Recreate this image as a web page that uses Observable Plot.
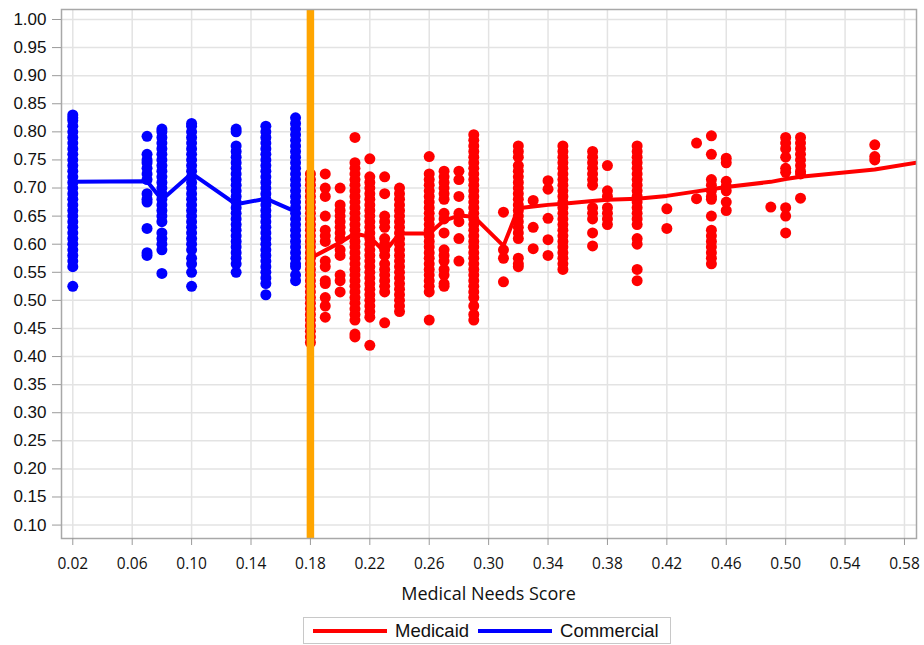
<!DOCTYPE html>
<html>
<head>
<meta charset="utf-8">
<script src="https://cdn.jsdelivr.net/npm/d3@7"></script>
<script src="https://cdn.jsdelivr.net/npm/@observablehq/plot@0.6"></script>
<style>
  html, body { margin: 0; padding: 0; background: #fff; }
  #wrap { position: relative; width: 924px; height: 645px; overflow: hidden; }
  #xlabel { position: absolute; left: 61px; width: 855px; top: 582px; text-align: center;
            font-family: "Open Sans", sans-serif; font-size: 18px; line-height: 22px; color: #111; }
  #legend { position: absolute; left: 303px; top: 617px; width: 368px; height: 27px; box-sizing: border-box;
            border: 1px solid #c8c8c8; display: flex; align-items: center; padding-left: 9px;
            font-family: "Liberation Sans", Arial, sans-serif; font-size: 18.5px; color: #111; }
  .sw { width: 74px; height: 4px; margin-right: 8px; }
</style>
</head>
<body>
<div id="wrap"></div>
<script>
// ---- tick labels ----
const xTicks = [0.02,0.06,0.10,0.14,0.18,0.22,0.26,0.30,0.34,0.38,0.42,0.46,0.50,0.54,0.58];
const yTicks = [0.10,0.15,0.20,0.25,0.30,0.35,0.40,0.45,0.50,0.55,0.60,0.65,0.70,0.75,0.80,0.85,0.90,0.95,1.00];
const cutoff = 0.18;

// ---- Commercial points (score -> values) ----
const commercialScores = [0.02,0.07,0.08,0.10,0.13,0.15,0.17];
const commercialValues = [
  [0.83,0.825,0.82,0.81,0.80,0.79,0.78,0.77,0.76,0.75,0.74,0.73,0.72,0.71,0.70,0.69,0.68,0.67,0.66,0.65,0.64,0.63,0.62,0.61,0.60,0.59,0.58,0.57,0.56,0.525],
  [0.792,0.76,0.75,0.745,0.735,0.725,0.715,0.69,0.68,0.675,0.628,0.585,0.58],
  [0.805,0.80,0.79,0.78,0.77,0.76,0.75,0.74,0.73,0.72,0.71,0.70,0.69,0.68,0.67,0.66,0.65,0.64,0.62,0.61,0.60,0.59,0.548],
  [0.815,0.81,0.80,0.79,0.78,0.77,0.76,0.75,0.74,0.73,0.72,0.71,0.70,0.69,0.68,0.67,0.66,0.65,0.64,0.63,0.62,0.61,0.60,0.59,0.575,0.565,0.55,0.525],
  [0.805,0.80,0.775,0.765,0.755,0.745,0.735,0.725,0.715,0.705,0.695,0.685,0.675,0.665,0.655,0.645,0.635,0.625,0.615,0.605,0.595,0.585,0.575,0.565,0.55],
  [0.81,0.80,0.79,0.78,0.77,0.76,0.75,0.74,0.73,0.72,0.71,0.70,0.69,0.68,0.67,0.66,0.65,0.64,0.63,0.62,0.61,0.60,0.59,0.58,0.57,0.56,0.55,0.54,0.53,0.51],
  [0.825,0.815,0.805,0.795,0.785,0.775,0.765,0.755,0.745,0.735,0.725,0.715,0.705,0.695,0.685,0.675,0.665,0.655,0.645,0.635,0.625,0.615,0.605,0.595,0.585,0.575,0.565,0.56,0.545,0.535]
];
const commercialMean = [0.711,0.712,0.679,0.726,0.671,0.681,0.658];

// ---- Medicaid points (score -> values) ----
const medicaidScores = [0.18,0.19,0.20,0.21,0.22,0.23,0.24,0.26,0.27,0.28,0.29,0.31,0.32,0.33,0.34,0.35,0.37,0.38,0.40,0.42,0.44,0.45,0.46,0.49,0.50,0.51,0.56];
const medicaidValues = [
  [0.725,0.715,0.705,0.695,0.685,0.675,0.665,0.655,0.645,0.635,0.625,0.615,0.605,0.595,0.585,0.575,0.565,0.555,0.545,0.535,0.525,0.515,0.505,0.495,0.485,0.475,0.465,0.455,0.445,0.435,0.425],
  [0.725,0.70,0.685,0.65,0.625,0.615,0.605,0.57,0.56,0.535,0.53,0.505,0.49,0.47],
  [0.70,0.67,0.66,0.65,0.64,0.63,0.62,0.61,0.59,0.58,0.545,0.535,0.515],
  [0.79,0.745,0.735,0.725,0.715,0.705,0.695,0.685,0.675,0.665,0.655,0.645,0.635,0.625,0.615,0.605,0.595,0.585,0.575,0.565,0.555,0.545,0.535,0.525,0.515,0.505,0.495,0.485,0.475,0.465,0.44,0.435],
  [0.752,0.72,0.71,0.70,0.69,0.68,0.67,0.66,0.65,0.64,0.63,0.62,0.61,0.60,0.59,0.58,0.57,0.56,0.55,0.54,0.53,0.52,0.51,0.50,0.49,0.48,0.47,0.42],
  [0.72,0.69,0.65,0.64,0.63,0.61,0.60,0.59,0.58,0.565,0.555,0.545,0.535,0.525,0.515,0.46],
  [0.70,0.69,0.68,0.67,0.66,0.65,0.64,0.63,0.62,0.61,0.60,0.59,0.58,0.57,0.56,0.55,0.54,0.53,0.52,0.51,0.50,0.49,0.48],
  [0.756,0.725,0.715,0.705,0.695,0.685,0.675,0.665,0.655,0.645,0.635,0.625,0.615,0.605,0.595,0.585,0.575,0.565,0.555,0.545,0.535,0.525,0.515,0.465],
  [0.73,0.72,0.71,0.70,0.69,0.68,0.655,0.645,0.62,0.59,0.58,0.57,0.555,0.545,0.53,0.525],
  [0.73,0.715,0.685,0.655,0.64,0.61,0.57],
  [0.795,0.785,0.775,0.765,0.755,0.745,0.735,0.725,0.715,0.705,0.695,0.685,0.675,0.665,0.655,0.645,0.635,0.625,0.615,0.605,0.595,0.585,0.575,0.565,0.555,0.545,0.535,0.525,0.515,0.505,0.49,0.475,0.465],
  [0.657,0.59,0.575,0.533],
  [0.775,0.765,0.755,0.74,0.73,0.72,0.71,0.70,0.69,0.68,0.67,0.66,0.65,0.64,0.63,0.62,0.61,0.575,0.565,0.56],
  [0.678,0.63,0.592],
  [0.713,0.698,0.646,0.608,0.58],
  [0.775,0.765,0.755,0.745,0.735,0.725,0.715,0.705,0.695,0.685,0.675,0.665,0.655,0.645,0.635,0.625,0.615,0.605,0.595,0.585,0.575,0.565,0.555],
  [0.765,0.755,0.745,0.735,0.725,0.715,0.705,0.665,0.655,0.645,0.62,0.597],
  [0.74,0.695,0.685,0.665,0.655,0.645,0.635],
  [0.775,0.765,0.755,0.745,0.735,0.725,0.715,0.705,0.695,0.685,0.675,0.665,0.655,0.645,0.635,0.61,0.60,0.555,0.535],
  [0.663,0.628],
  [0.78,0.681],
  [0.793,0.76,0.715,0.705,0.695,0.685,0.68,0.65,0.625,0.615,0.605,0.595,0.585,0.575,0.565],
  [0.753,0.745,0.712,0.703,0.695,0.675,0.66],
  [0.666],
  [0.79,0.78,0.77,0.755,0.735,0.728,0.665,0.65,0.62],
  [0.79,0.78,0.77,0.76,0.75,0.74,0.73,0.725,0.682],
  [0.777,0.756,0.75]
];
const medicaidLineScores = [0.18,0.19,0.20,0.21,0.22,0.23,0.24,0.26,0.27,0.28,0.29,0.31,0.32,0.33,0.34,0.35,0.37,0.38,0.40,0.42,0.44,0.45,0.46,0.49,0.50,0.51,0.56,0.59];
const medicaidMean = [0.575,0.589,0.603,0.619,0.613,0.586,0.619,0.619,0.642,0.651,0.649,0.597,0.664,0.667,0.670,0.672,0.677,0.679,0.681,0.686,0.694,0.698,0.702,0.711,0.716,0.720,0.733,0.746];

// ---- build tables ----
const commercialPts = commercialScores.flatMap((s, i) => commercialValues[i].map(v => ({score: s, value: v})));
const medicaidPts = medicaidScores.flatMap((s, i) => medicaidValues[i].map(v => ({score: s, value: v})));
const commercialLine = commercialScores.map((s, i) => ({score: s, value: commercialMean[i]}));
const medicaidLine = medicaidLineScores.map((s, i) => ({score: s, value: medicaidMean[i]}));

const RED = "#ff0000", BLUE = "#0000ff", ORANGE = "#ffa500";
const fmt = d3.format(".2f");

const chart = Plot.plot({
  width: 924,
  height: 610,
  marginLeft: 61,
  marginRight: 8,
  marginTop: 9,
  marginBottom: 72,
  style: {background: "white", fontFamily: "'Liberation Sans', Arial, sans-serif", color: "#111"},
  x: {domain: [0.0124, 0.5881]},
  y: {domain: [0.0761, 1.0178]},
  marks: [
    Plot.gridX(xTicks, {stroke: "#e3e3e3", strokeOpacity: 1, strokeWidth: 1.5}),
    Plot.gridY(yTicks, {stroke: "#e3e3e3", strokeOpacity: 1, strokeWidth: 1.5}),
    Plot.dot(medicaidPts, {x: "score", y: "value", r: 5.5, fill: RED}),
    Plot.dot(commercialPts, {x: "score", y: "value", r: 5.5, fill: BLUE}),
    Plot.line(medicaidLine, {x: "score", y: "value", stroke: RED, strokeWidth: 4, clip: true}),
    Plot.line(commercialLine, {x: "score", y: "value", stroke: BLUE, strokeWidth: 4}),
    Plot.ruleX([cutoff], {stroke: ORANGE, strokeWidth: 7.5}),
    Plot.frame({stroke: "#a8a8a8", strokeWidth: 1.5}),
    Plot.axisX(xTicks, {tickSize: 7, tickPadding: 12, tickFormat: fmt, fontSize: 15.5,
      fontFamily: "'Open Sans', sans-serif", stroke: "#9a9a9a", fill: "#111", label: null}),
    Plot.axisY(yTicks, {tickSize: 9, tickPadding: 6, tickFormat: fmt, fontSize: 17,
      stroke: "#9a9a9a", fill: "#111", label: null})
  ]
});

const wrap = document.getElementById("wrap");
wrap.appendChild(chart);

const xl = document.createElement("div");
xl.id = "xlabel";
xl.textContent = "Medical Needs Score";
wrap.appendChild(xl);

const lg = document.createElement("div");
lg.id = "legend";
lg.innerHTML = `<span class="sw" style="background:${RED}"></span><span>Medicaid</span>` +
  `<span class="sw" style="background:${BLUE};margin-left:9px"></span><span>Commercial</span>`;
wrap.appendChild(lg);
</script>
</body>
</html>
